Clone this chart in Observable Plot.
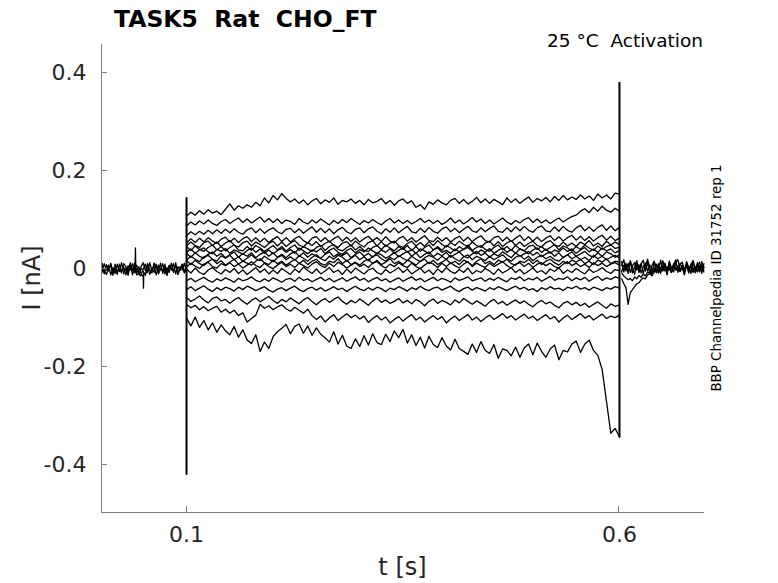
<!DOCTYPE html>
<html><head><meta charset="utf-8">
<script src="https://cdn.jsdelivr.net/npm/d3@7"></script>
<script src="https://cdn.jsdelivr.net/npm/@observablehq/plot@0.6"></script>
<style>body{margin:0;background:#fff} #chart svg{display:block}</style>
</head><body><div id="chart"></div>
<script>
// ---- tick labels ----
const xTicks = [0.1, 0.6];
const yTicks = [-0.4, -0.2, 0, 0.2, 0.4];

// ---- sample times [s] ----
const tPre = [.0025,.005,.0075,.010,.0125,.015,.0175,.020,.0225,.025,.0275,.030,.0325,.035,.0375,.040,.0425,.045,.0475,.050,.0525,.055,.0575,.060,.0625,.065,.0675,.070,.0725,.075,.0775,.080,.0825,.085,.0875,.090,.0925,.095,.0975,.100];
const tPulse = [.100,.105,.110,.115,.120,.125,.130,.135,.140,.145,
.150,.155,.160,.165,.170,.175,.180,.185,.190,.195,
.200,.205,.210,.215,.220,.225,.230,.235,.240,.245,
.250,.255,.260,.265,.270,.275,.280,.285,.290,.295,
.300,.305,.310,.315,.320,.325,.330,.335,.340,.345,
.350,.355,.360,.365,.370,.375,.380,.385,.390,.395,
.400,.405,.410,.415,.420,.425,.430,.435,.440,.445,
.450,.455,.460,.465,.470,.475,.480,.485,.490,.495,
.500,.505,.510,.515,.520,.525,.530,.535,.540,.545,
.550,.555,.560,.565,.570,.575,.580,.585,.590,.595,
.600];
const tPost = [.6025,.605,.6075,.61,.6125,.615,.6175,.62,.6225,.625,.6275,.63,.6325,.635,.6375,.64,.6425,.645,.6475,.65,.6525,.655,.6575,.66,.6625,.665,.6675,.67,.6725,.675,.6775,.68,.6825,.685,.6875,.69,.6925,.695,.6975];

// ---- currents [pA] ----
const pre1 = [6,-10,9,-4,12,-7,2,-11,10,-5,4,-12,7,-2,11,-8,0,-10,5,13,-3,8,-11,2,-7,10,-5,12,-9,3,-12,7,-2,11,-10,5,-3,9,-7,10];
const pre2 = [-7,11,-2,8,-12,3,-9,10,-5,13,-10,2,-13,7,-3,12,-8,5,-11,0,10,-7,13,-3,7,-12,8,-2,11,-10,3,-7,12,-5,8,-11,0,10,-8,5];
const pre3 = [12,-3,-11,2,7,-13,10,-5,0,-8,11,5,-7,13,-12,3,8,-10,2,-5,-13,11,-2,-8,12,5,-10,0,-3,10,-13,8,2,-7,13,-11,5,-2,12,-7];

const tArt = [.0395,.0405,.0410,.0415,.0425,.0445,.0465,.0485,.0500,.0503,.0506,.0525,.0545];
const iArt = [-2,4,43,-6,-12,-9,-14,-11,-16,-39,-8,-10,-4];

const spikeOnT = [0.1, 0.1, 0.1];
const spikeOnI = [145, -418, 0];
const spikeOffT = [0.6, 0.6, 0.6];
const spikeOffI = [-342, 380, 0];

const p1 = [108,116,110,119,112,121,114,118,111,122,
133,120,129,124,131,126,136,129,145,135,
150,141,154,144,137,143,134,141,131,139,
144,133,141,136,145,132,140,137,143,134,
140,131,142,135,138,144,133,140,130,139,
143,134,139,126,131,122,137,132,141,135,
131,140,144,134,142,133,138,146,135,143,
134,142,137,131,145,136,143,134,141,147,
136,144,139,146,137,148,140,150,141,147,
142,151,143,149,140,153,145,151,143,155,
153];
const p2 = [88,96,90,98,92,100,93,89,97,101,
93,99,104,95,102,94,100,106,96,103,
95,102,93,100,97,91,103,96,92,100,
94,102,96,90,99,93,101,95,103,97,
91,99,94,101,95,90,98,103,94,100,
93,99,92,97,103,95,100,93,99,91,
96,104,94,100,92,98,105,96,102,93,
100,92,98,104,96,91,99,94,101,105,
95,102,94,100,93,99,104,96,102,107,
110,118,123,115,126,118,128,120,116,124,
118];
const p3 = [68,76,70,77,71,79,72,80,73,81,
74,82,75,71,80,84,74,82,73,80,
84,76,72,81,83,74,82,73,80,86,
75,83,74,82,72,80,85,76,72,81,
84,74,82,86,77,72,82,75,84,74,
81,87,76,74,83,75,85,77,73,82,
86,76,83,74,81,87,78,75,84,76,
83,88,77,75,84,76,86,78,87,79,
75,84,88,78,76,86,77,87,79,75,
84,89,78,86,77,85,90,79,88,78,
85];
const p4 = [53,62,54,63,55,64,57,52,61,65,
55,63,54,62,66,56,64,55,63,54,
61,66,56,64,55,62,67,58,53,63,
66,56,64,55,62,67,57,65,56,64,
55,62,67,58,64,56,66,57,53,62,
67,57,64,55,62,68,58,56,65,57,
64,55,62,67,57,65,56,63,68,58,
55,64,67,57,65,56,63,69,58,66,
57,65,56,63,68,58,66,57,64,69,
59,67,58,66,57,64,69,59,67,58,
63];
const p5 = [47,55,48,44,54,57,48,55,46,53,
58,49,45,54,57,47,55,50,44,52,
57,47,55,46,53,58,49,45,54,48,
56,46,52,57,48,44,53,56,47,57,
50,45,54,58,47,56,46,53,57,48,
44,52,57,47,54,46,56,48,58,50,
45,54,48,57,50,46,55,48,44,53,
57,47,56,46,53,58,48,55,46,52,
57,48,45,54,58,49,46,55,47,53,
46,55,50,58,47,53,46,57,49,55,
50];
const p6 = [46,38,47,40,36,44,49,39,46,37,
44,49,39,37,46,38,48,43,36,42,
48,39,46,37,44,49,38,46,41,36,
44,48,38,46,50,40,37,44,49,39,
46,38,36,44,48,40,49,43,37,46,
40,48,38,46,36,44,49,39,46,38,
48,43,37,46,40,49,38,44,48,40,
36,44,49,39,46,38,48,41,37,46,
49,40,46,38,44,50,39,47,43,37,
46,40,49,43,38,47,40,46,49,42,
44];
const p7 = [34,41,32,39,43,35,31,40,36,42,
32,39,35,30,38,43,34,41,32,39,
31,38,42,34,40,32,43,37,31,39,
35,42,32,38,43,34,30,38,42,33,
40,35,43,37,31,39,34,42,32,38,
43,34,40,32,41,37,31,39,43,34,
38,32,41,35,40,44,36,31,39,34,
42,32,38,43,34,40,32,41,37,31,
39,43,34,41,32,39,35,43,36,41,
32,39,44,35,41,34,43,37,41,33,
38];
const p8 = [32,24,33,26,22,30,35,26,32,23,
29,35,24,31,26,33,23,30,35,26,
33,24,30,23,31,36,26,33,24,31,
26,22,30,35,25,31,27,34,23,30,
35,26,32,24,33,29,22,27,34,25,
31,36,26,33,23,30,35,25,32,27,
34,24,30,35,26,23,31,36,28,33,
24,31,27,35,29,23,33,26,31,36,
28,34,25,31,35,26,33,23,29,35,
26,31,36,28,24,33,26,35,31,24,
29];
const p9 = [18,26,20,15,25,28,20,16,27,22,
28,19,25,16,22,29,21,17,26,20,
15,23,28,19,25,18,27,22,16,24,
29,21,17,26,20,28,24,16,22,28,
19,25,17,26,29,21,16,24,19,27,
22,17,26,20,15,23,28,24,18,26,
20,28,21,16,25,29,19,26,22,17,
26,19,24,29,21,16,24,28,20,26,
17,24,28,21,26,19,16,24,29,21,
26,19,24,17,28,21,26,19,24,28,
22];
const p10 = [17,9,18,11,7,15,20,11,17,8,
14,20,10,16,12,8,16,21,13,9,
18,11,16,8,14,20,11,18,9,16,
20,11,8,16,13,21,11,18,9,14,
8,16,20,11,18,9,14,21,11,16,
9,18,14,8,16,20,11,18,9,14,
20,11,16,9,18,14,7,16,21,11,
16,9,18,14,20,11,8,16,13,20,
11,18,9,16,20,13,8,16,11,18,
14,20,11,16,9,18,14,21,11,16,
14];
const p11 = [4,12,6,1,10,14,5,2,11,7,
13,5,10,2,8,15,7,3,12,5,
1,8,14,5,10,3,12,7,2,10,
15,7,3,12,5,14,9,2,8,13,
5,10,3,12,15,7,2,10,5,13,
7,3,12,5,1,8,14,10,3,12,
5,13,7,2,10,15,5,12,7,3,
12,5,10,15,7,2,10,13,5,12,
3,10,13,7,12,5,2,10,15,7,
12,5,10,3,13,7,12,5,10,13,
8];
const p12 = [0,-8,2,-7,-11,-2,3,-5,-10,-1,
-7,1,-9,-2,-11,-4,3,-7,0,-10,
-2,-9,1,-5,-11,0,-7,4,-3,-9,
0,-10,-4,3,-7,-2,-11,0,-8,2,
-4,-10,-2,2,-7,-11,-1,-8,-3,3,
-7,0,-10,-4,2,-8,-2,-11,0,-7,
3,-5,-9,-1,-7,2,-10,-3,-7,1,
-4,-11,0,-8,-3,3,-7,-1,-10,-4,
2,-7,-3,-10,0,-5,3,-9,-2,-7,
1,-5,-10,0,-7,-3,3,-5,-9,-1,
-3];
const p13 = [-24,-19,-26,-21,-17,-23,-27,-20,-24,-18,
-22,-27,-19,-24,-21,-16,-23,-26,-20,-25,
-18,-22,-27,-21,-19,-25,-17,-23,-20,-26,
-21,-17,-24,-19,-26,-22,-18,-25,-20,-16,
-23,-19,-26,-21,-17,-24,-20,-27,-22,-18,
-25,-20,-16,-23,-19,-26,-21,-17,-24,-19,
-22,-27,-18,-23,-20,-16,-24,-21,-18,-25,
-19,-23,-17,-22,-26,-18,-21,-16,-24,-19,
-22,-17,-25,-20,-15,-23,-19,-21,-16,-24,
-18,-22,-17,-25,-19,-15,-23,-18,-21,-16,
-19];
const p14 = [-42,-36,-44,-39,-34,-41,-46,-38,-43,-37,
-40,-45,-37,-42,-35,-39,-44,-40,-36,-43,
-47,-41,-38,-44,-39,-35,-42,-46,-40,-37,
-43,-38,-45,-41,-36,-42,-39,-46,-40,-35,
-41,-44,-38,-43,-37,-40,-46,-39,-42,-36,
-40,-45,-38,-42,-35,-41,-44,-39,-37,-43,
-39,-35,-42,-46,-40,-37,-43,-38,-41,-45,
-38,-42,-36,-40,-44,-39,-35,-41,-37,-43,
-40,-46,-38,-42,-36,-41,-39,-44,-37,-40,
-35,-41,-38,-43,-37,-40,-44,-38,-41,-36,
-39];
const p15 = [-58,-66,-61,-55,-63,-69,-60,-57,-65,-62,
-70,-63,-58,-66,-72,-64,-59,-67,-61,-56,
-64,-70,-62,-67,-59,-65,-71,-63,-58,-66,
-73,-65,-60,-68,-62,-57,-66,-72,-64,-69,
-61,-67,-74,-65,-59,-68,-63,-70,-66,-60,
-69,-64,-71,-62,-67,-75,-66,-61,-70,-64,
-68,-73,-63,-69,-60,-66,-72,-65,-70,-76,
-67,-62,-71,-66,-74,-68,-63,-70,-65,-72,
-77,-69,-64,-71,-67,-74,-79,-70,-66,-73,
-68,-75,-70,-78,-72,-67,-74,-80,-71,-76,
-73];
const p16 = [-72,-79,-74,-83,-77,-85,-80,-76,-88,-82,
-90,-84,-95,-89,-108,-101,-94,-72,-80,-75,
-83,-77,-73,-81,-86,-78,-84,-90,-82,-95,
-103,-96,-108,-100,-93,-105,-98,-91,-99,-94,
-102,-96,-109,-101,-95,-104,-98,-110,-103,-97,
-106,-99,-93,-104,-98,-108,-101,-95,-103,-97,
-110,-102,-96,-105,-99,-93,-104,-98,-107,-100,
-94,-103,-97,-91,-100,-95,-104,-98,-92,-101,
-96,-105,-99,-93,-102,-97,-108,-100,-94,-103,
-97,-91,-100,-95,-104,-98,-92,-101,-96,-99,
-94];
const p17 = [-100,-116,-98,-119,-105,-124,-110,-129,-114,-126,
-134,-117,-139,-124,-145,-152,-134,-168,-149,-162,
-138,-128,-121,-113,-132,-117,-112,-131,-116,-135,
-120,-133,-140,-149,-128,-153,-135,-157,-162,-142,
-158,-136,-155,-132,-150,-154,-133,-148,-126,-140,
-123,-151,-134,-156,-139,-161,-137,-154,-160,-140,
-157,-165,-143,-162,-168,-174,-153,-170,-148,-166,
-172,-154,-182,-163,-166,-177,-159,-180,-161,-153,
-175,-151,-168,-180,-163,-155,-185,-166,-169,-153,
-147,-170,-153,-145,-166,-176,-205,-270,-335,-325,
-342];

const post1 = [-20,-30,-38,-72,-48,-42,-36,-30,-28,-22,-18,-20,-12,-9,-14,-6,-2,-8,3,-4,6,-3,1,-7,4,-2,7,-5,2,-6,5,-1,8,-4,3,-6,6,-2,4];
const post2 = [-8,-14,-18,-22,-19,-24,-16,-20,-13,-17,-10,-14,-6,-9,-3,2,-5,4,-2,7,-4,5,0,-6,8,-1,3,-5,6,-3,9,-2,4,-7,5,0,-4,7,-1];
const post3 = [15,-6,12,-9,17,3,-11,13,-7,10,18,-4,14,-10,7,16,-8,11,-3,17,4,-12,13,-6,8,19,-7,12,2,-10,15,-4,9,17,-8,5,14,-9,11];
const post4 = [-5,8,1,11,-7,6,13,-2,9,-8,4,12,-4,8,0,-6,10,3,-9,7,12,-3,5,-7,11,1,-5,9,14,-1,6,-8,10,2,-4,13,-3,8,-6];
const post5 = [7,19,-4,9,14,-8,4,17,-3,12,-9,8,20,1,-11,15,6,-5,18,-3,10,-10,16,3,-6,13,19,-2,7,-12,14,4,-9,17,0,9,-6,15,3];

// ---- build table ----
const traces = [
  ["pre1", tPre, pre1], ["pre2", tPre, pre2], ["pre3", tPre, pre3], ["art", tArt, iArt],
  ["p1", tPulse, p1], ["p2", tPulse, p2], ["p3", tPulse, p3], ["p4", tPulse, p4], ["p5", tPulse, p5],
  ["p6", tPulse, p6], ["p7", tPulse, p7], ["p8", tPulse, p8], ["p9", tPulse, p9], ["p10", tPulse, p10],
  ["p11", tPulse, p11], ["p12", tPulse, p12], ["p13", tPulse, p13], ["p14", tPulse, p14],
  ["p15", tPulse, p15], ["p16", tPulse, p16], ["p17", tPulse, p17],
  ["post1", tPost, post1], ["post2", tPost, post2], ["post3", tPost, post3], ["post4", tPost, post4], ["post5", tPost, post5]
];
const rows = traces.flatMap(([id, ts, vs]) => vs.map((v, k) => ({id, t: ts[k], I: v / 1000})));
const spikes = [["on", spikeOnT, spikeOnI], ["off", spikeOffT, spikeOffI]]
  .flatMap(([id, ts, vs]) => vs.map((v, k) => ({id, t: ts[k], I: v / 1000})));

const W = 778, H = 583, mL = 101, mR = 74, mT = 44, mB = 71;
const plot = Plot.plot({
  width: W, height: H,
  marginLeft: mL, marginRight: mR, marginTop: mT, marginBottom: mB,
  style: {fontFamily: "DejaVu Sans", fontSize: "22px", color: "#262626", background: "#fff", overflow: "visible"},
  x: {domain: [0.0018, 0.6982]},
  y: {domain: [-0.4966, 0.458]},
  marks: [
    Plot.line(rows, {x: "t", y: "I", z: "id", stroke: "#000", strokeWidth: 1.3}),
    Plot.line(spikes, {x: "t", y: "I", z: "id", stroke: "#000", strokeWidth: 2}),
    Plot.axisX({ticks: xTicks, tickSize: 0, tickPadding: 14, tickFormat: d => String(d), label: null, fill: "#262626"}),
    Plot.axisY({ticks: yTicks, tickSize: 0, tickPadding: 15, tickFormat: d => String(d), label: null, fill: "#262626"})
  ]
});
document.getElementById("chart").appendChild(plot);

const svg = d3.select(plot);
const xs = plot.scale("x"), ys = plot.scale("y");
const g = svg.append("g").attr("stroke", "#808080").attr("stroke-width", 1).attr("shape-rendering", "crispEdges");
g.append("line").attr("x1", mL).attr("x2", mL).attr("y1", mT).attr("y2", H - mB);
g.append("line").attr("x1", mL).attr("x2", W - mR).attr("y1", H - mB).attr("y2", H - mB);
for (const v of xTicks) {
  const x = xs.apply(v);
  g.append("line").attr("x1", x).attr("x2", x).attr("y1", H - mB).attr("y2", H - mB - 6);
}
for (const v of yTicks) {
  const y = ys.apply(v);
  g.append("line").attr("x1", mL).attr("x2", mL + 6).attr("y1", y).attr("y2", y);
}
const txt = svg.append("g").attr("font-family", "DejaVu Sans").style("white-space", "pre");
txt.append("text").attr("x", 114).attr("y", 27).attr("text-anchor", "start").attr("font-weight", "bold").attr("font-size", 23.5)
  .attr("fill", "#000").text("TASK5  Rat  CHO_FT");
txt.append("text").attr("x", 703).attr("y", 47).attr("text-anchor", "end").attr("font-size", 18.5)
  .attr("fill", "#000").text("25 °C  Activation");
txt.append("text").attr("x", (mL + W - mR) / 2).attr("y", 575).attr("text-anchor", "middle").attr("font-size", 24)
  .attr("fill", "#262626").text("t [s]");
txt.append("text").attr("transform", `translate(40,${(mT + H - mB) / 2}) rotate(-90)`).attr("text-anchor", "middle")
  .attr("font-size", 24).attr("fill", "#262626").text("I [nA]");
txt.append("text").attr("transform", `translate(721,278) rotate(-90)`).attr("text-anchor", "middle")
  .attr("font-size", 13.4).attr("fill", "#000").text("BBP Channelpedia ID 31752 rep 1");
</script>
</body></html>
